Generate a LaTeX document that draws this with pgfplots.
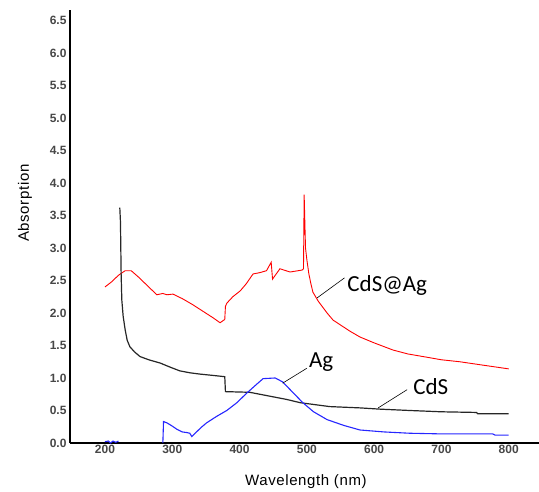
\documentclass[border=0pt]{standalone}
\usepackage{pgfplots}
\pgfplotsset{compat=1.18}
\usepackage{fontspec}
\setmainfont{Liberation Sans}
\newfontfamily\calibri{Carlito}

\begin{document}
\begin{tikzpicture}
\useasboundingbox (-70pt,-48pt) rectangle (469pt,443pt);
\begin{axis}[
	scale only axis,
	width=469pt, height=433pt,
	xmin=148, xmax=845,
	ymin=0, ymax=6.66,
	axis x line=bottom,
	axis y line=left,
	axis line style={-, line width=1.1pt},
	major tick length=0pt,
	xtick={200,300,...,800},
	ytick={0,0.5,...,6.5},
	/pgf/number format/assume math mode=true,
	yticklabel style={/pgf/number format/.cd, fixed, fixed zerofill, precision=1},
	ticklabel style={font=\fontsize{12}{14}\selectfont\bfseries, text=black!72},
	xticklabel style={yshift=1pt},
	xlabel={Wavelength (nm)},
	ylabel={Absorption},
	xlabel style={at={(axis description cs:0.503,-0.09)}, anchor=center,
		font=\fontsize{15}{17}\selectfont\addfontfeatures{LetterSpace=4}},
	ylabel style={at={(axis description cs:-0.096,0.554)}, anchor=center, rotate=0,
		font=\fontsize{15}{17}\selectfont\addfontfeatures{LetterSpace=4}},
	clip=false]

	% CdS@Ag
	\addplot[red, line width=0.9pt] coordinates {
		(200,2.40)(210,2.48)(220,2.58)(230,2.65)(239,2.65)(250,2.55)(265,2.40)
		(277,2.28)(286,2.30)(292,2.28)(301,2.29)(315,2.22)(330,2.13)(345,2.03)
		(360,1.93)(371,1.85)(378,1.90)(379,2.10)(381,2.15)(390,2.25)(401,2.34)
		(410,2.45)(420,2.60)(430,2.62)(440,2.65)(447,2.78)(449,2.52)(451,2.55)
		(460,2.68)(475,2.63)(493,2.66)(495,2.68)(496,3.82)(498,3.00)(500,2.82)
		(503,2.60)(506,2.45)(509,2.32)(517,2.18)(530,2.00)(539,1.89)(564,1.72)(579,1.63)
		(600,1.54)(628,1.43)(650,1.37)(678,1.32)(700,1.28)(727,1.25)(760,1.20)
		(800,1.14)};

	% CdS
	\addplot[black!85, line width=1.2pt] coordinates {
		(222,3.62)(223,3.40)(224,2.60)(225,2.20)(227,1.95)(230,1.74)(233,1.58)
		(237,1.48)(244,1.40)(252,1.33)(265,1.28)(282,1.23)(296,1.17)(311,1.11)
		(326,1.08)(341,1.06)(360,1.04)(378,1.02)(379,0.79)(415,0.78)(430,0.75)
		(450,0.71)(470,0.67)(490,0.62)(534,0.56)(579,0.54)(610,0.52)(653,0.50)
		(700,0.48)(752,0.47)(754,0.45)(800,0.45)};

	% Ag
	\addplot[blue!85, line width=1.1pt] coordinates {
		(200,0.02)(205,0.03)(208,0.00)(212,0.03)(216,0.01)(220,0.03)};
	\addplot[blue!85, line width=1.1pt] coordinates {
		(286,0)(287,0.33)(292,0.31)(300,0.26)(307,0.21)(315,0.17)(322,0.16)
		(326,0.15)(329,0.10)(336,0.17)(343,0.24)(351,0.31)(366,0.41)(381,0.50)
		(396,0.62)(411,0.77)(425,0.90)(435,0.99)(453,1.00)(464,0.94)(478,0.79)
		(494,0.62)(510,0.48)(530,0.36)(555,0.27)(579,0.20)(615,0.17)(653,0.15)
		(700,0.14)(776,0.14)(780,0.12)(800,0.12)};

	% leader lines
	\addplot[black, line width=0.6pt] coordinates {(515,2.23)(556,2.54)};
	\addplot[black, line width=0.6pt] coordinates {(464,0.92)(500,1.15)};
	\addplot[black, line width=0.6pt] coordinates {(606,0.54)(649,0.82)};

	\node[anchor=west, inner sep=0pt, font=\calibri\fontsize{23}{25}\selectfont] at (axis cs:560,2.42) {CdS@Ag};
	\node[anchor=west, inner sep=0pt, font=\calibri\fontsize{23}{25}\selectfont] at (axis cs:503,1.24) {Ag};
	\node[anchor=west, inner sep=0pt, font=\calibri\fontsize{23}{25}\selectfont] at (axis cs:658,0.86) {CdS};
\end{axis}
\end{tikzpicture}
\end{document}
